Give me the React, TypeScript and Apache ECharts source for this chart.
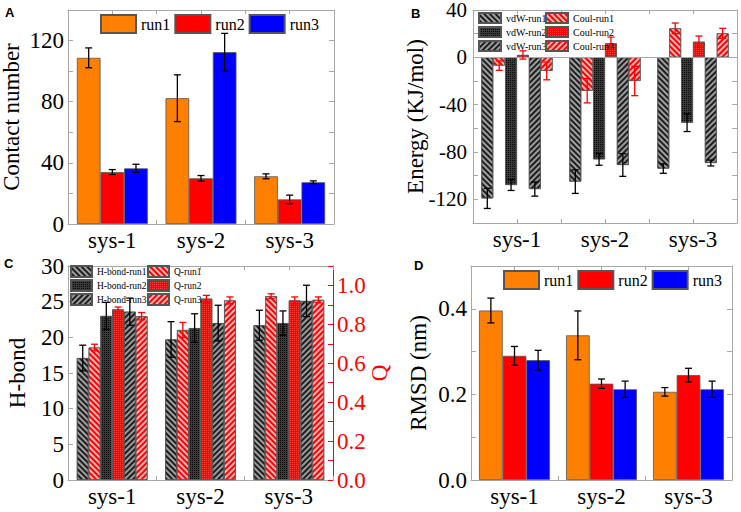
import React, { useEffect, useRef } from 'react';
import * as echarts from 'echarts';

// ---------- data ----------
const categories = ['sys-1', 'sys-2', 'sys-3'];

// Panel A: contact number
const contactRun1 = [108.7, 82.3, 31.2];
const contactRun1Err = [6.5, 15.3, 1.6];
const contactRun2 = [34.0, 29.9, 16.1];
const contactRun2Err = [1.6, 1.8, 2.8];
const contactRun3 = [36.4, 112.4, 27.3];
const contactRun3Err = [2.7, 12.3, 0.9];

// Panel B: energy (KJ/mol)
const vdwRun1 = [-119.2, -105.0, -94.0];
const vdwRun1Err = [8.5, 10.0, 4.0];
const coulRun1 = [-7.0, -28.2, 24.5];
const coulRun1Err = [4.0, 10.3, 4.5];
const vdwRun2 = [-107.9, -86.2, -55.2];
const vdwRun2Err = [4.6, 5.0, 7.5];
const coulRun2 = [2.0, 11.8, 13.2];
const coulRun2Err = [3.5, 5.3, 4.8];
const vdwRun3 = [-111.3, -91.0, -89.3];
const vdwRun3Err = [6.0, 9.6, 2.5];
const coulRun3 = [-11.5, -20.0, 20.3];
const coulRun3Err = [7.5, 12.4, 4.2];

// Panel C: H-bond and Q
const hbRun1 = [17.1, 19.7, 21.7];
const hbRun1Err = [1.8, 2.5, 2.1];
const qRun1 = [0.681, 0.771, 0.945];
const qRun1Err = [0.017, 0.039, 0.012];
const hbRun2 = [23.0, 21.3, 22.0];
const hbRun2Err = [1.9, 2.0, 1.7];
const qRun2 = [0.877, 0.932, 0.923];
const qRun2Err = [0.012, 0.017, 0.018];
const hbRun3 = [23.6, 22.0, 25.1];
const hbRun3Err = [1.9, 2.5, 2.2];
const qRun3 = [0.842, 0.923, 0.926];
const qRun3Err = [0.019, 0.018, 0.015];

// Panel D: RMSD (nm)
const rmsdRun1 = [0.396, 0.338, 0.206];
const rmsdRun1Err = [0.029, 0.057, 0.010];
const rmsdRun2 = [0.290, 0.225, 0.245];
const rmsdRun2Err = [0.022, 0.011, 0.016];
const rmsdRun3 = [0.280, 0.212, 0.212];
const rmsdRun3Err = [0.023, 0.019, 0.019];

// tick labels
const contactTicks = [0, 40, 80, 120];
const energyTicks = [-120, -80, -40, 0, 40];
const hbondTicks = [0, 5, 10, 15, 20, 25, 30];
const rmsdTicks = [0.0, 0.2, 0.4];
const qTicks = [0.0, 0.2, 0.4, 0.6, 0.8, 1.0];

// ---------- styles ----------
const FONT = 'Liberation Serif, serif';
const FRAME = '#a8a8a8';
const ORANGE = '#ff8000';
const RED = '#ff0000';
const BLUE = '#0000ff';

const stripe = (color: string, rot: number) => ({
  symbol: 'rect', symbolSize: 1, color,
  dashArrayX: [1, 0], dashArrayY: [2, 2], rotation: rot,
});
const dots = (color: string) => ({
  symbol: 'rect', symbolSize: 1, color,
  dashArrayX: [1, 1], dashArrayY: [1, 1], rotation: 0,
});

const vdwStyles = [
  { color: '#a0a0a0', decal: stripe('#1e1e1e', Math.PI / 4) },
  { color: '#3a3a3a', decal: dots('#080808') },
  { color: '#9a9a9a', decal: stripe('#1e1e1e', -Math.PI / 4) },
];
const coulStyles = [
  { color: '#ff0000', decal: stripe('rgba(255,190,190,0.95)', Math.PI / 4) },
  { color: '#ff0000', decal: dots('rgba(255,90,90,0.7)') },
  { color: '#ff0000', decal: stripe('rgba(255,190,190,0.95)', -Math.PI / 4) },
];

function makeErr(k: number, n: number, gap: number, color: string) {
  return (params: any, api: any) => {
    const i = api.value(0);
    const v = api.value(1);
    const e = api.value(2);
    const c = api.coord([i, v]);
    const catW = api.size([1, 0])[0];
    const groupW = catW * (1 - gap);
    const bw = groupW / n;
    const x = c[0] - groupW / 2 + bw * (k + 0.5);
    const yt = api.coord([i, v + e])[1];
    const yb = api.coord([i, v - e])[1];
    const hw = 3.5;
    const st = { stroke: color, lineWidth: 1.3 };
    return {
      type: 'group',
      children: [
        { type: 'line', shape: { x1: x, y1: yt, x2: x, y2: yb }, style: st },
        { type: 'line', shape: { x1: x - hw, y1: yt, x2: x + hw, y2: yt }, style: st },
        { type: 'line', shape: { x1: x - hw, y1: yb, x2: x + hw, y2: yb }, style: st },
      ],
    };
  };
}

function bar(name: string, data: number[], itemStyle: any, xi: number, yi: number, gap: number) {
  return {
    type: 'bar', name, data, xAxisIndex: xi, yAxisIndex: yi,
    barGap: '0%', barCategoryGap: (gap * 100).toFixed(1) + '%',
    itemStyle: { borderColor: '#555', borderWidth: 0.8, ...itemStyle },
    emphasis: { disabled: true },
  };
}

function err(vals: number[], errs: number[], k: number, n: number, gap: number, color: string, xi: number, yi: number) {
  return {
    type: 'custom', xAxisIndex: xi, yAxisIndex: yi, z: 5,
    renderItem: makeErr(k, n, gap, color),
    data: vals.map((v, i) => [i, v, errs[i]]),
    encode: { x: 0, y: 1 },
    silent: true,
  };
}

const tickLabel = (color: string, margin: number, size = 23) => ({
  color, fontFamily: FONT, fontSize: size, margin, fontWeight: 'normal', fontStyle: 'normal',
});

function xAxesFor(g: number) {
  return [
    {
      type: 'category', gridIndex: g, data: categories, position: 'bottom',
      axisLine: { show: true, onZero: false, lineStyle: { color: FRAME, width: 1 } },
      axisTick: { show: false },
      axisLabel: tickLabel('#000', 5),
      splitLine: { show: false },
    },
    {
      type: 'value', gridIndex: g, position: 'top', min: 0, max: 3, interval: 0.5,
      axisLine: { show: true, onZero: false, lineStyle: { color: FRAME, width: 1 } },
      axisTick: { show: true, inside: true, length: 4, lineStyle: { color: FRAME } },
      axisLabel: { show: false }, splitLine: { show: false },
    },
    {
      type: 'value', gridIndex: g, position: 'bottom', min: 0, max: 3, interval: 0.5,
      axisLine: { show: false, onZero: false },
      axisTick: { show: true, inside: true, length: 4, lineStyle: { color: FRAME } },
      axisLabel: { show: false }, splitLine: { show: false },
    },
  ];
}

function yLeft(g: number, min: number, max: number, interval: number, shown: number[], fmt: (v: number) => string, name: string, gap: number, labelSize = 23, labelMargin = 4, lineHeight?: number) {
  const lbl: any = {
    ...tickLabel('#000', labelMargin, labelSize),
    formatter: (v: number) => (shown.some((s) => Math.abs(s - v) < 1e-6) ? fmt(v) : ''),
  };
  if (lineHeight) lbl.lineHeight = lineHeight;
  return {
    type: 'value', gridIndex: g, position: 'left', min, max, interval,
    name, nameLocation: 'middle', nameGap: gap, nameMoveOverlap: false,
    nameTextStyle: { color: '#000', fontFamily: FONT, fontSize: 23 },
    axisLine: { show: true, onZero: false, lineStyle: { color: FRAME, width: 1 } },
    axisTick: { show: true, inside: true, length: 5, lineStyle: { color: FRAME } },
    axisLabel: lbl,
    splitLine: { show: false },
  };
}

function yRight(g: number, min: number, max: number, interval: number) {
  return {
    type: 'value', gridIndex: g, position: 'right', min, max, interval,
    axisLine: { show: true, onZero: false, lineStyle: { color: FRAME, width: 1 } },
    axisTick: { show: true, inside: true, length: 5, lineStyle: { color: FRAME } },
    axisLabel: { show: false }, splitLine: { show: false },
  };
}

const legendText = (size: number) => ({ fontFamily: FONT, fontSize: size, color: '#000' });
const LABEL_FONT = 'bold 13px Liberation Sans, sans-serif';

export default function App() {
  const ref = useRef<HTMLDivElement>(null);
  useEffect(() => {
    if (!ref.current) return;
    const chart = echarts.init(ref.current, undefined, { renderer: 'svg' });
    const gA = 0.2, gB = 0.19, gC = 0.2, gD = 0.185;
    const contactSet = [
      [contactRun1, contactRun1Err, ORANGE, 'run1'],
      [contactRun2, contactRun2Err, RED, 'run2'],
      [contactRun3, contactRun3Err, BLUE, 'run3'],
    ] as const;
    const rmsdSet = [
      [rmsdRun1, rmsdRun1Err, ORANGE, 'run1'],
      [rmsdRun2, rmsdRun2Err, RED, 'run2'],
      [rmsdRun3, rmsdRun3Err, BLUE, 'run3'],
    ] as const;
    const energySet = [
      ['vdW-run1', vdwRun1, vdwRun1Err, vdwStyles[0], '#000'],
      ['Coul-run1', coulRun1, coulRun1Err, coulStyles[0], RED],
      ['vdW-run2', vdwRun2, vdwRun2Err, vdwStyles[1], '#000'],
      ['Coul-run2', coulRun2, coulRun2Err, coulStyles[1], RED],
      ['vdW-run3', vdwRun3, vdwRun3Err, vdwStyles[2], '#000'],
      ['Coul-run3', coulRun3, coulRun3Err, coulStyles[2], RED],
    ] as const;
    const hbSet = [
      ['H-bond-run1', hbRun1, hbRun1Err, vdwStyles[0], '#000', 4],
      ['Q-run1', qRun1, qRun1Err, coulStyles[0], RED, 5],
      ['H-bond-run2', hbRun2, hbRun2Err, vdwStyles[1], '#000', 4],
      ['Q-run2', qRun2, qRun2Err, coulStyles[1], RED, 5],
      ['H-bond-run3', hbRun3, hbRun3Err, vdwStyles[2], '#000', 4],
      ['Q-run3', qRun3, qRun3Err, coulStyles[2], RED, 5],
    ] as const;

    const series: any[] = [];
    contactSet.forEach(([v, e, c, n], k) => {
      series.push(bar(n, v as number[], { color: c }, 0, 0, gA));
      series.push(err(v as number[], e as number[], k, 3, gA, '#000', 0, 0));
    });
    energySet.forEach(([n, v, e, st, ec], k) => {
      const s: any = bar(n, v as number[], st, 3, 2, gB);
      if (k === 0) {
        s.markLine = {
          silent: true, symbol: 'none', label: { show: false },
          lineStyle: { color: FRAME, width: 1, type: 'solid' },
          data: [{ yAxis: 0 }],
        };
      }
      series.push(s);
      series.push(err(v as number[], e as number[], k, 6, gB, ec as string, 3, 2));
    });
    hbSet.forEach(([n, v, e, st, ec, yi], k) => {
      series.push(bar(n, v as number[], st, 6, yi as number, gC));
      series.push(err(v as number[], e as number[], k, 6, gC, ec as string, 6, yi as number));
    });
    rmsdSet.forEach(([v, e, c, n], k) => {
      series.push(bar(n, v as number[], { color: c }, 9, 6, gD));
      series.push(err(v as number[], e as number[], k, 3, gD, '#000', 9, 6));
    });

    const qAxis = {
      type: 'value', gridIndex: 2, position: 'right', min: 0, max: 1.1, interval: 0.1,
      name: 'Q', nameLocation: 'middle', nameGap: 35, nameMoveOverlap: false,
      nameTextStyle: { color: RED, fontFamily: FONT, fontSize: 23 },
      axisLine: { show: true, onZero: false, lineStyle: { color: RED, width: 1 } },
      axisTick: { show: true, inside: true, length: 5, lineStyle: { color: RED } },
      axisLabel: {
        ...tickLabel(RED, 4),
        formatter: (v: number) => (qTicks.some((s) => Math.abs(s - v) < 1e-6) ? v.toFixed(1) : ''),
      },
      splitLine: { show: false },
    };

    const option: any = {
      animation: false,
      backgroundColor: '#fff',
      textStyle: { fontFamily: FONT },
      grid: [
        { left: 68, top: 10, width: 266, height: 214, outerBoundsMode: 'none', containLabel: false },
        { left: 473, top: 10, width: 264, height: 213, outerBoundsMode: 'none', containLabel: false },
        { left: 68, top: 266, width: 265, height: 214, outerBoundsMode: 'none', containLabel: false },
        { left: 471, top: 266, width: 261, height: 214, outerBoundsMode: 'none', containLabel: false },
      ],
      xAxis: [...xAxesFor(0), ...xAxesFor(1), ...xAxesFor(2), ...xAxesFor(3)],
      yAxis: [
        yLeft(0, 0, 140, 20, contactTicks, (v) => String(v), 'Contact number', 45),
        yRight(0, 0, 140, 20),
        yLeft(1, -140, 40, 20, energyTicks, (v) => String(v), 'Energy (KJ/mol)', 46, 21, 6, 16),
        yRight(1, -140, 40, 20),
        yLeft(2, 0, 30, 5, hbondTicks, (v) => String(v), 'H-bond', 39),
        qAxis,
        yLeft(3, 0, 0.5, 0.1, rmsdTicks, (v) => v.toFixed(1), 'RMSD (nm)', 41),
        yRight(3, 0, 0.5, 0.1),
      ],
      legend: [
        {
          data: ['run1', 'run2', 'run3'], left: 100, top: 14, itemWidth: 35, itemHeight: 18,
          itemGap: 4, icon: 'rect', textStyle: legendText(16), selectedMode: false, padding: 0,
        },
        {
          orient: 'vertical', data: ['vdW-run1', 'vdW-run2', 'vdW-run3'], left: 478, top: 12,
          itemWidth: 22, itemHeight: 10, itemGap: 2, icon: 'rect', textStyle: legendText(10),
          selectedMode: false, padding: 0,
        },
        {
          orient: 'vertical', data: ['Coul-run1', 'Coul-run2', 'Coul-run3'], left: 545, top: 12,
          itemWidth: 22, itemHeight: 10, itemGap: 2, icon: 'rect', textStyle: legendText(10),
          selectedMode: false, padding: 0,
        },
        {
          orient: 'vertical', data: ['H-bond-run1', 'H-bond-run2', 'H-bond-run3'], left: 70, top: 265,
          itemWidth: 21, itemHeight: 11, itemGap: 1, icon: 'rect', textStyle: legendText(9.5),
          selectedMode: false, padding: 0,
        },
        {
          orient: 'vertical', data: ['Q-run1', 'Q-run2', 'Q-run3'], left: 147, top: 265,
          itemWidth: 21, itemHeight: 11, itemGap: 1, icon: 'rect', textStyle: legendText(9.5),
          selectedMode: false, padding: 0,
        },
        {
          data: ['run1', 'run2', 'run3'], left: 503, top: 270, itemWidth: 35, itemHeight: 18,
          itemGap: 4, icon: 'rect', textStyle: legendText(16), selectedMode: false, padding: 0,
        },
      ],
      graphic: [
        { type: 'text', left: 5, top: 6, style: { text: 'A', font: LABEL_FONT, fill: '#000' } },
        { type: 'text', left: 411, top: 7, style: { text: 'B', font: LABEL_FONT, fill: '#000' } },
        { type: 'text', left: 4, top: 257, style: { text: 'C', font: LABEL_FONT, fill: '#000' } },
        { type: 'text', left: 414, top: 259, style: { text: 'D', font: LABEL_FONT, fill: '#000' } },
      ],
      series,
    };
    chart.setOption(option);
    return () => chart.dispose();
  }, []);
  return (
    <div
      ref={ref}
      style={{ position: 'absolute', left: 0, top: 0, width: 741, height: 512, background: '#fff' }}
    />
  );
}
